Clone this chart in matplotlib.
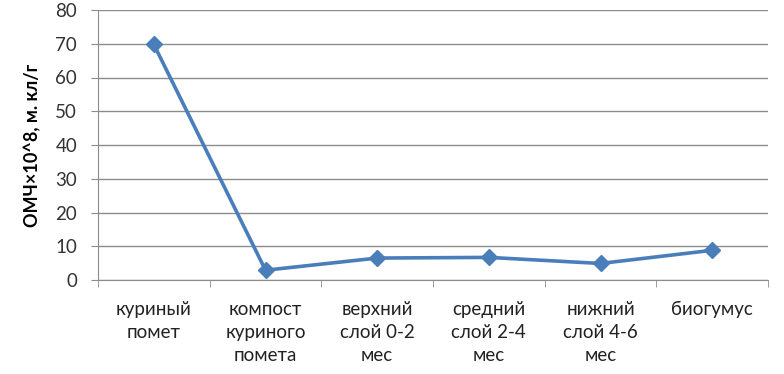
import matplotlib
matplotlib.use("Agg")
import matplotlib.pyplot as plt

categories = ["куриный\nпомет", "компост\nкуриного\nпомета", "верхний\nслой 0-2\nмес",
              "средний\nслой 2-4\nмес", "нижний\nслой 4-6\nмес", "биогумус"]
values = [69.8, 2.9, 6.5, 6.7, 4.9, 8.8]
yticks = [0, 10, 20, 30, 40, 50, 60, 70, 80]
ylabel = "ОМЧ×10^8, м. кл/г"

plt.rcParams['font.family'] = ['Lato', 'DejaVu Sans']

fig = plt.figure(figsize=(7.84, 3.74), dpi=100)
ax = fig.add_axes([98/784, 1-280/374, (768-98)/784, 270/374])

x = list(range(len(categories)))
ax.plot(x, values, color="#4A7EBB", lw=2.6, marker="D", markersize=8.5,
        markerfacecolor="#4A7EBB", markeredgecolor="#4A7EBB", zorder=3)

ax.set_xlim(-0.5, len(categories) - 0.5)
ax.set_ylim(0, 80)
ax.set_yticks(yticks)
ax.set_yticklabels([str(v) for v in yticks], fontsize=13.5, color="#333333")
ax.yaxis.grid(True, color="#8c8c8c", lw=1)
ax.set_axisbelow(True)

ax.set_xticks(x)
ax.set_xticklabels(categories, fontsize=13.5, color="#222222", linespacing=1.45, va="top")
ax.set_xticks([i - 0.5 for i in range(len(categories) + 1)], minor=True)
ax.tick_params(axis="x", which="major", length=0, pad=15)
ax.tick_params(axis="x", which="minor", length=5, color="#8c8c8c", direction="out")
ax.tick_params(axis="y", length=5, color="#8c8c8c", pad=10)

for s in ["top", "right"]:
    ax.spines[s].set_visible(False)
ax.spines["left"].set_color("#8c8c8c")
ax.spines["bottom"].set_color("#8c8c8c")

ax.set_ylabel(ylabel, fontsize=13, fontweight="bold", labelpad=10)

fig.savefig("out.png", dpi=100, facecolor="white")
